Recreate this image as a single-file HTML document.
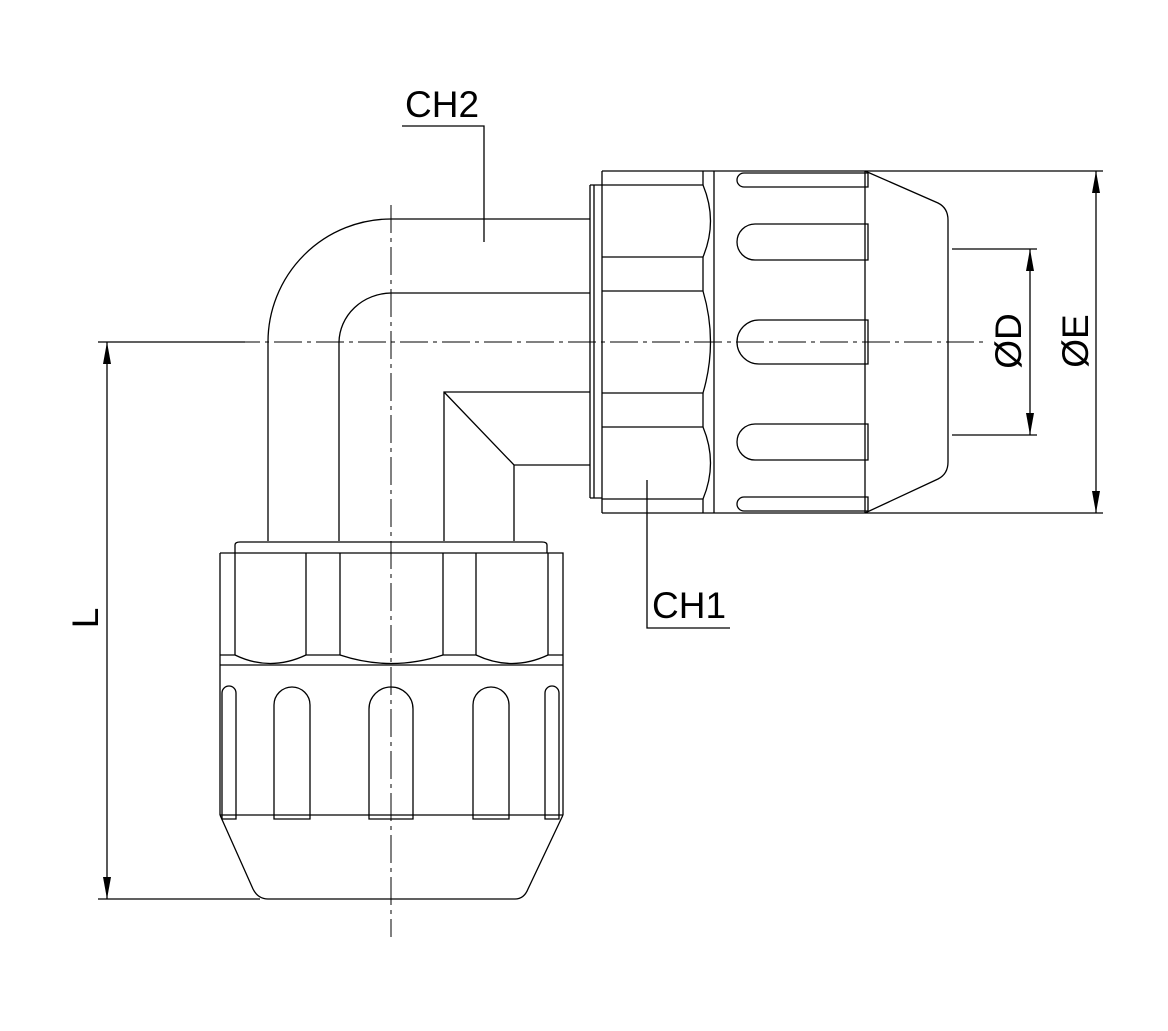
<!DOCTYPE html>
<html><head><meta charset="utf-8"><style>
html,body{margin:0;padding:0;background:#fff}
svg{display:block}
text{font-family:"Liberation Sans",Arial,sans-serif;fill:#000}
</style></head><body>
<svg width="1168" height="1031" viewBox="0 0 1168 1031" xmlns="http://www.w3.org/2000/svg">
<g fill="none" stroke="#000" stroke-width="1.3">
<!-- centerlines -->
<path d="M232 342 H985" stroke-dasharray="28 5 4 5" stroke-width="1"/>
<path d="M391 205 V937" stroke-dasharray="28 5 4 5" stroke-width="1"/>
<!-- L dimension -->
<path d="M98 342 H245 M98 899 H260 M107 342 V899"/>
<!-- elbow pipe -->
<path d="M268 541 V342 A123 123 0 0 1 391 219 H590"/>
<path d="M339 541 V342 A53 50 0 0 1 391 293 H590"/>
<path d="M444 541 V392 H590 M444 392 L514 465 H590 M514 465 V541"/>
<!-- CH2 leader -->
<path d="M402 126 H484 V242"/>
<!-- right connector -->
<path d="M602 171 V513 M590 185 H602 M590 498 H602 M590 185 V498 M594 185 V498"/>
<path d="M602 171 H1103 M602 513 H1103"/>
<path d="M714 171 V513 M865 171 V513 M703 171 V185 M703 499 V513"/>
<path d="M602 185 H703 Q718 221 703 257 H602 M602 291 H703 Q718 342 703 393 H602 M602 427 H703 Q718 463 703 499 H602"/>
<path d="M703 257 V291 M703 393 V427"/>
<!-- slots right -->
<path d="M868 173 H744 A7 7 0 0 0 744 187 H868 Z"/>
<path d="M868 224 H755 A18 18 0 0 0 755 260 H868 Z"/>
<path d="M868 320 H759 A22 22 0 0 0 759 364 H868 Z"/>
<path d="M868 424 H755 A18 18 0 0 0 755 460 H868 Z"/>
<path d="M868 497 H744 A7 7 0 0 0 744 511 H868 Z"/>
<!-- right cone -->
<path d="M865 171 L938 203 Q948 208 948 220 V462 Q948 474 938 479 L865 513"/>
<!-- D / E dims -->
<path d="M952 249 H1037 M952 435 H1037 M1030 249 V435 M1096 171 V513"/>
<!-- CH1 leader -->
<path d="M647 480 V628 H730"/>
<!-- bottom connector -->
<path d="M235 553 V545 Q235 542 240 542 H542 Q547 542 547 545 V553"/>
<path d="M220 553 H563 V815 M220 553 V815 M220 665 H563 M220 815 H563"/>
<path d="M235 553 V655 M306 553 V655 M340 553 V655 M443 553 V655 M476 553 V655 M548 553 V655"/>
<path d="M220 655 H235 Q270 672 306 655 H340 Q391 672 443 655 H476 Q512 672 548 655 H563"/>
<!-- slots bottom -->
<path d="M222 819 V693 A7 7 0 0 1 236 693 V819 Z"/>
<path d="M274 819 V705 A18 18 0 0 1 310 705 V819 Z"/>
<path d="M369 819 V709 A22 22 0 0 1 413 709 V819 Z"/>
<path d="M473 819 V705 A18 18 0 0 1 509 705 V819 Z"/>
<path d="M545 819 V693 A7 7 0 0 1 559 693 V819 Z"/>
<!-- bottom cone -->
<path d="M220 815 L253 889 Q258 899 268 899 H515 Q524 899 528 889 L563 815"/>
</g>
<!-- arrows -->
<g fill="#000">
<path d="M107 342 L103 364 L111 364 Z"/>
<path d="M107 899 L103 877 L111 877 Z"/>
<path d="M1030 249 L1026 271 L1034 271 Z"/>
<path d="M1030 435 L1026 413 L1034 413 Z"/>
<path d="M1096 171 L1092 193 L1100 193 Z"/>
<path d="M1096 513 L1092 491 L1100 491 Z"/>
</g>
<text x="405" y="117" font-size="37">CH2</text>
<text x="652" y="618" font-size="37">CH1</text>
<text transform="translate(98,618) rotate(-90)" font-size="37" text-anchor="middle">L</text>
<text transform="translate(1021,341) rotate(-90)" font-size="37" text-anchor="middle">ØD</text>
<text transform="translate(1088,341) rotate(-90)" font-size="37" text-anchor="middle">ØE</text>
</svg>
</body></html>
